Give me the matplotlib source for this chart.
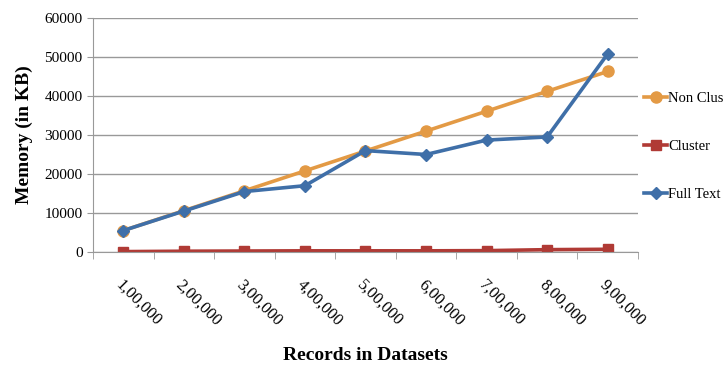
import matplotlib.pyplot as plt
import numpy as np

plt.rcParams['font.family'] = ['Liberation Serif', 'DejaVu Serif']

records = ['1,00,000', '2,00,000', '3,00,000', '4,00,000', '5,00,000',
           '6,00,000', '7,00,000', '8,00,000', '9,00,000']
non_cluster = [5500, 10600, 15700, 20800, 25900, 31000, 36100, 41200, 46300]
cluster = [100, 200, 250, 300, 300, 300, 350, 600, 700]
full_text = [5500, 10500, 15500, 17000, 26000, 25000, 28700, 29500, 50800]

fig = plt.figure(figsize=(7.26, 3.74), dpi=100)
ax = fig.add_axes([93 / 726, 1 - 252 / 374, 545 / 726, 234 / 374])

x = np.arange(len(records))
ax.plot(x, non_cluster, color='#E39A45', lw=2.6, marker='o', ms=8, label='Non Clus')
ax.plot(x, cluster, color='#B03A35', lw=2.6, marker='s', ms=7, label='Cluster')
ax.plot(x, full_text, color='#3F6FA8', lw=2.6, marker='D', ms=6, label='Full Text')

ax.set_xlim(-0.5, len(records) - 0.5)
ax.set_ylim(0, 60000)
ax.set_yticks(np.arange(0, 60001, 10000))
ax.yaxis.grid(True, color='#999999', lw=1)
ax.set_axisbelow(True)

# category ticks sit between the points, labels under each point
ax.set_xticks(x)
ax.set_xticklabels(records, rotation=-45, ha='left', va='top', rotation_mode='anchor',
                   fontsize=12)
ax.set_xticks(np.arange(-0.5, len(records)), minor=True)
ax.tick_params(axis='x', which='major', length=0, pad=18)
ax.tick_params(axis='x', which='minor', length=5, color='#999999')
ax.tick_params(axis='y', length=4, color='#999999', labelsize=11)

for side in ['top', 'right']:
    ax.spines[side].set_visible(False)
for side in ['left', 'bottom']:
    ax.spines[side].set_color('#999999')

ax.set_ylabel('Memory (in KB)', fontsize=14, fontweight='bold', labelpad=8)
fig.text(0.5 * (93 + 638) / 726, 1 - 355 / 374, 'Records in Datasets',
         ha='center', va='center', fontsize=14, fontweight='bold')

fig.legend(loc='upper left', bbox_to_anchor=(638 / 726, 1 - 86 / 374),
           frameon=False, fontsize=10.5, labelspacing=2.4, handlelength=1.6,
           handletextpad=0.05, borderaxespad=0)

fig.savefig('out.png', dpi=100)
